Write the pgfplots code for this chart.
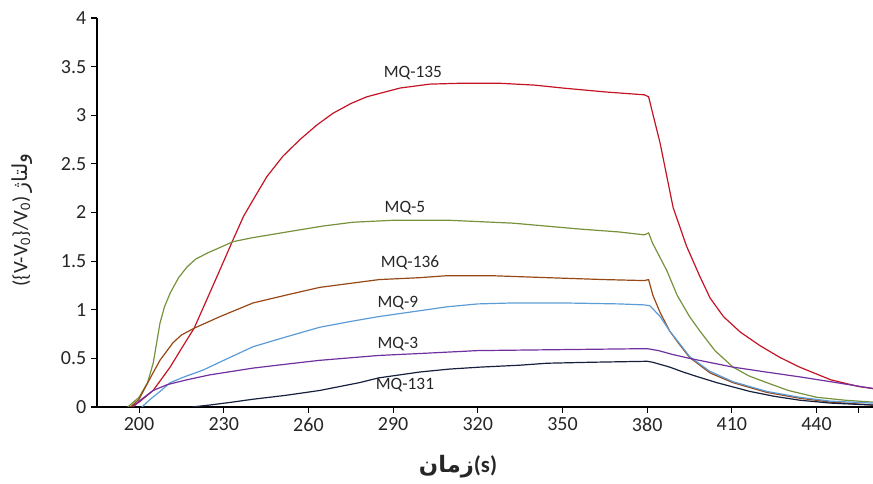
\documentclass[border=0pt]{standalone}
\usepackage{pgfplots}
\pgfplotsset{compat=1.18}
\usepackage{fontspec}
\setmainfont{Carlito}
\newfontfamily\arabicfont[Script=Arabic]{DejaVu Sans}
\TeXXeTstate=1
\definecolor{cred}{RGB}{196,20,36}
\definecolor{cgreen}{RGB}{118,146,60}
\definecolor{cbrown}{RGB}{151,72,22}
\definecolor{cblue}{RGB}{92,156,214}
\definecolor{cpurple}{RGB}{112,48,160}
\definecolor{cnavy}{RGB}{23,32,62}
\definecolor{ctext}{RGB}{38,38,38}
\begin{document}
\begin{tikzpicture}
\begin{axis}[
  at={(72.75pt,57.75pt)}, anchor=south west,
  scale only axis, width=582pt, height=291.75pt,
  xmin=185.1, xmax=460, ymin=0, ymax=4,
  axis x line=bottom, axis y line=left,
  axis line style={-, black, line width=0.8pt},
  tick align=outside, major tick length=4.5pt,
  tick style={black, line width=0.8pt},
  xtick={200,230,...,440},
  extra x ticks={455}, extra x tick labels={},
  ytick={0,0.5,...,4},
  yticklabels={0,0.5,1,1.5,2,2.5,3,3.5,4},
  /pgf/number format/assume math mode=true,
  tick label style={font=\fontsize{15}{16}\selectfont, text=ctext},
  every axis plot/.append style={line width=0.9pt, mark=none},
  clip=true,
]
% MQ-135
\addplot[cred] coordinates {(197,0) (200,0.05) (205,0.17) (211,0.41) (215,0.6) (219.5,0.81) (225,1.17) (230,1.5) (233.3,1.72) (237,1.96) (240.4,2.13) (245.3,2.37) (251,2.58) (257,2.75) (263,2.9) (268.7,3.02) (275,3.12) (280.7,3.19) (292.5,3.28) (303,3.32) (315,3.33) (327,3.33) (340,3.31) (350,3.28) (365,3.24) (379,3.21) (380.5,3.19) (384.6,2.71) (389.2,2.05) (394,1.65) (398.7,1.34) (402.3,1.12) (407,0.93) (413,0.77) (420,0.63) (427,0.51) (434,0.41) (445,0.28) (455,0.21) (460,0.19)};
% MQ-5
\addplot[cgreen] coordinates {(196,0) (200,0.1) (203,0.25) (205,0.45) (207.4,0.86) (209,1.03) (211,1.17) (214,1.33) (217,1.44) (220,1.52) (224,1.58) (233.3,1.70) (240,1.74) (252.4,1.80) (265,1.86) (275.8,1.90) (290,1.92) (310,1.92) (332.6,1.89) (356,1.83) (370,1.80) (379,1.77) (380.5,1.79) (382,1.68) (387,1.40) (390.6,1.15) (395,0.93) (398.7,0.78) (404,0.58) (410.4,0.41) (416,0.32) (422.4,0.25) (430,0.17) (440,0.10) (450,0.07) (460,0.05)};
% MQ-136
\addplot[cbrown] coordinates {(197,0) (200,0.08) (204,0.3) (207.4,0.48) (212,0.66) (215,0.74) (219.5,0.81) (228.7,0.93) (240.4,1.07) (252,1.15) (264,1.23) (285,1.31) (299.5,1.33) (309,1.35) (325,1.35) (344.5,1.33) (365,1.31) (379,1.30) (380.5,1.31) (382,1.15) (384.6,0.97) (388,0.78) (391,0.66) (395,0.51) (402.3,0.35) (410.4,0.25) (422.4,0.15) (434,0.09) (445,0.05) (460,0.02)};
% MQ-9
\addplot[cblue] coordinates {(201,0) (204,0.08) (207,0.15) (211,0.25) (216,0.31) (222.7,0.38) (230,0.48) (240.4,0.62) (252,0.72) (264,0.82) (275,0.88) (285,0.93) (299.5,0.99) (309,1.03) (320,1.06) (332.6,1.07) (350,1.07) (370,1.06) (379,1.05) (381,1.04) (384.6,0.93) (388,0.78) (391,0.67) (395,0.52) (402,0.37) (410.4,0.26) (422.4,0.16) (434,0.10) (445,0.06) (460,0.04)};
% MQ-3
\addplot[cpurple] coordinates {(198,0) (200,0.06) (205,0.17) (210,0.23) (217,0.28) (225,0.33) (240.4,0.40) (252,0.44) (264,0.48) (285,0.53) (299.5,0.55) (320,0.58) (350,0.59) (380,0.60) (384,0.58) (389,0.54) (395,0.50) (410.4,0.41) (422,0.36) (434,0.31) (445,0.26) (460,0.19)};
% MQ-131
\addplot[cnavy] coordinates {(218.8,0) (225,0.02) (233,0.05) (240.4,0.08) (252,0.12) (264,0.17) (278,0.25) (285,0.30) (299.5,0.36) (310,0.39) (320.8,0.41) (335,0.43) (344.5,0.45) (360,0.46) (380,0.47) (382,0.46) (388,0.41) (392.7,0.36) (398,0.31) (404.7,0.25) (416.4,0.16) (425,0.11) (434,0.07) (445,0.04) (460,0.02)};
\begin{scope}[every node/.style={font=\fontsize{13}{14}\selectfont, text=ctext}]
\node at (axis cs:297,3.43) {MQ-135};
\node at (axis cs:294.2,2.05) {MQ-5};
\node at (axis cs:296,1.48) {MQ-136};
\node at (axis cs:291.7,1.07) {MQ-9};
\node at (axis cs:291.7,0.65) {MQ-3};
\node at (axis cs:294.2,0.23) {MQ-131};
\end{scope}
\end{axis}
\node[rotate=90, font=\fontsize{15.5}{16}\selectfont, text=ctext] at (16.5pt,198pt) {(\{V-V\textsubscript{0}\}/V\textsubscript{0}) {\arabicfont\beginR ولتاژ\endR}};
\node[font=\fontsize{17}{18}\selectfont\bfseries, text=ctext] at (343.5pt,13pt) {{\arabicfont\bfseries\beginR زمان\endR}(s)};
\pgfresetboundingbox
\path[use as bounding box] (0,0) rectangle (654.75pt,363pt);
\end{tikzpicture}
\end{document}
